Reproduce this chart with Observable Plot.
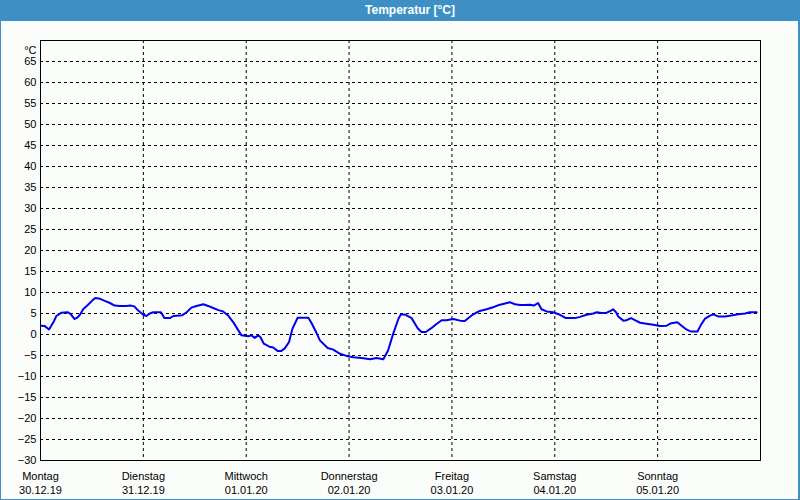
<!DOCTYPE html>
<html>
<head>
<meta charset="utf-8">
<script src="https://cdn.jsdelivr.net/npm/d3@7"></script>
<script src="https://cdn.jsdelivr.net/npm/@observablehq/plot@0.6"></script>
<style>
  html, body { margin: 0; padding: 0; background: #ffffff; }
  #win { position: relative; width: 800px; height: 500px; background: #fbfdfb; overflow: hidden; font-family: "Liberation Sans", Arial, sans-serif; }
  #titlebar { position: absolute; left: 0; top: 0; width: 800px; height: 21px; background: #3d8fc4; }
  #title { position: absolute; left: 0; top: 0; width: 820px; height: 21px; line-height: 21px; text-align: center; color: #ffffff; font-weight: bold; font-size: 12px; }
  #chart { position: absolute; left: 0; top: 21px; }
  #border { position: absolute; left: 0; top: 0; width: 800px; height: 500px; box-sizing: border-box; border: 1px solid #3d8fc4; border-right-width: 2px; pointer-events: none; }
</style>
</head>
<body>
<div id="win">
  <div id="titlebar"></div>
  <div id="title">Temperatur [°C]</div>
  <div id="chart"></div>
  <div id="border"></div>
</div>
<script>
// hours since Monday 30.12.19 00:00
const hours = [0.1, 1.0, 2.0, 3.0, 3.7, 4.9, 6.3, 7.0, 7.9, 8.6, 9.2, 10.0, 11.1, 12.3, 12.8, 13.9, 15.0, 16.2, 17.3, 18.5, 20.1, 20.9, 21.9, 22.8, 24.0, 24.7, 25.5, 26.3, 28.1, 28.9, 30.2, 31.0, 33.1,
  34.1, 35.2, 36.4, 38.0, 39.1, 40.3, 41.5, 42.6, 43.8, 45.0, 45.9, 46.9, 48.5, 49.2, 50.0, 50.8, 51.3, 52.1, 53.4, 54.3, 55.3, 56.2, 57.0, 58.0, 58.8, 60.0, 62.5, 63.2, 64.3, 65.2, 67.0,
  68.3, 69.9, 71.4, 73.0, 74.9, 76.9, 78.4, 80.0, 81.1, 82.3, 83.5, 84.1, 85.2, 86.6, 88.0, 88.9, 89.9, 91.2, 92.4, 93.6, 94.7, 96.3, 97.9, 99.0, 100.8,
  102.5, 104.1, 105.6, 107.2, 108.4, 109.5, 110.7, 111.9, 113.0, 114.2, 115.1, 116.1, 116.9, 118.1, 119.6, 121.2, 122.6, 124.7, 125.9, 127.4, 129.0, 129.8, 130.9, 132.1, 133.0, 133.6, 134.3, 134.8,
  136.0, 136.7, 137.8, 138.7, 139.9, 141.8, 143.0, 144.5, 146.1, 147.2, 148.6, 149.6, 150.7, 151.8, 153.3, 154.1, 155.0, 156.2, 157.0, 158.1, 159.7, 161.2, 162.8, 164.4, 165.5, 167.1];
const temps = [2.1, 2.0, 1.2, 2.9, 4.4, 5.2, 5.3, 4.9, 3.7, 4.0, 4.7, 6.1, 7.1, 8.3, 8.7, 8.5, 8.0, 7.5, 6.9, 6.8, 6.8, 6.9, 6.7, 5.7, 4.7, 4.4, 5.0, 5.3, 5.3, 3.9, 3.9, 4.4, 4.6,
  5.3, 6.4, 6.8, 7.2, 6.8, 6.3, 5.8, 5.5, 4.5, 2.9, 1.4, -0.2, -0.4, -0.2, -0.8, -0.2, -0.6, -2.2, -2.9, -3.1, -3.9, -3.9, -3.3, -1.8, 1.4, 4.0, 4.0, 2.8, 0.6, -1.4, -3.2,
  -3.6, -4.6, -5.1, -5.4, -5.6, -5.9, -5.6, -5.9, -3.8, 0.2, 3.7, 4.8, 4.7, 3.9, 1.5, 0.6, 0.6, 1.5, 2.5, 3.4, 3.4, 3.7, 3.3, 3.2, 4.7,
  5.6, 6.0, 6.5, 7.1, 7.4, 7.7, 7.2, 7.0, 7.0, 7.1, 6.9, 7.5, 6.0, 5.5, 5.3, 4.7, 3.9, 3.9, 4.2, 4.7, 5.0, 5.3, 5.1, 5.2, 5.6, 6.0, 5.3, 4.3,
  3.3, 3.4, 3.9, 3.4, 2.8, 2.5, 2.3, 2.0, 2.1, 2.7, 2.9, 2.1, 1.2, 0.7, 0.7, 2.3, 3.7, 4.5, 4.8, 4.3, 4.3, 4.5, 4.8, 5.0, 5.3, 5.3];

const dayNames = ["Montag", "Dienstag", "Mittwoch", "Donnerstag", "Freitag", "Samstag", "Sonntag"];
const dayDates = ["30.12.19", "31.12.19", "01.01.20", "02.01.20", "03.01.20", "04.01.20", "05.01.20"];
const dayTicks = [0, 24, 48, 72, 96, 120, 144];
const yTicks = [-30, -25, -20, -15, -10, -5, 0, 5, 10, 15, 20, 25, 30, 35, 40, 45, 50, 55, 60, 65];
const unitLabel = "°C";

const data = hours.map((h, i) => ({h, t: temps[i]}));

const chart = Plot.plot({
  width: 800,
  height: 478,
  marginLeft: 40,
  marginRight: 40,
  marginTop: 19,
  marginBottom: 39,
  style: {fontFamily: "Liberation Sans, Arial, sans-serif", fontSize: "11px", background: "transparent", color: "black", overflow: "visible"},
  x: {domain: [0, 168]},
  y: {domain: [-30, 70]},
  marks: [
    Plot.gridY(yTicks, {stroke: "black", strokeOpacity: 1, strokeDasharray: "3,3"}),
    Plot.gridX(dayTicks, {stroke: "black", strokeOpacity: 1, strokeDasharray: "3,3"}),
    Plot.axisY(yTicks, {tickSize: 0, tickPadding: 4, label: null, fill: "black"}),
    Plot.axisX(dayTicks, {tickSize: 0, tickPadding: 9, label: null, lineHeight: 1.32, fill: "black",
      tickFormat: (d) => { const i = dayTicks.indexOf(d); return dayNames[i] + "\n" + dayDates[i]; }}),
    Plot.text([unitLabel], {frameAnchor: "top-left", text: (d) => d, dx: -4, dy: 6, textAnchor: "end", fill: "black"}),
    Plot.frame({stroke: "black", strokeWidth: 1}),
    Plot.line(data, {x: "h", y: "t", stroke: "#0000f0", strokeWidth: 2})
  ]
});
document.getElementById("chart").appendChild(chart);
</script>
</body>
</html>
